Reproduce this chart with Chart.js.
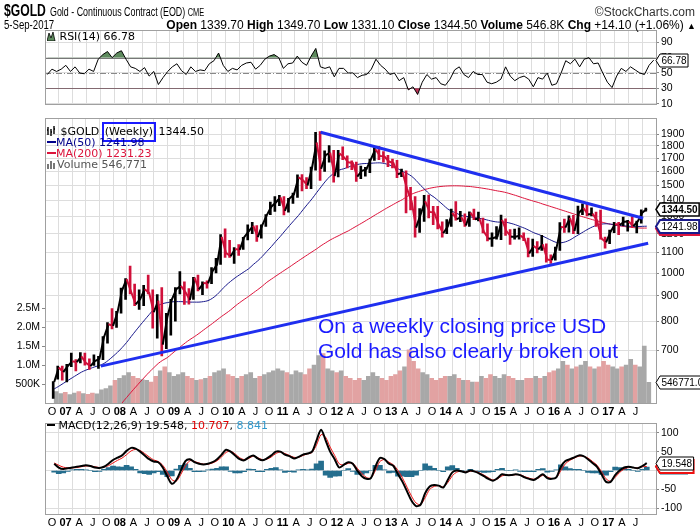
<!DOCTYPE html>
<html>
<head>
<meta charset="utf-8">
<script src="https://cdn.jsdelivr.net/npm/chart.js@4.4.1/dist/chart.umd.min.js"></script>
<style>
  body { margin: 0; width: 700px; height: 530px; position: relative; overflow: hidden; background: #fff; font-family: 'Liberation Sans', Arial, sans-serif; }
  canvas { position: absolute; left: 0; }
  .t { position: absolute; white-space: nowrap; z-index: 5; }
  .sq { transform-origin: left top; }
  .lg { font-family: 'DejaVu Sans', Verdana, sans-serif; font-size: 11px; }
</style>
</head>
<body>

<!-- header -->
<div class="t sq" style="left:4px;top:2px;font-size:16px;font-weight:bold;transform:scaleX(0.76);">$GOLD</div>
<div class="t sq" style="left:50px;top:5px;font-size:12px;transform:scaleX(0.74);">Gold - Continuous Contract (EOD) <span style="font-size:10px">CME</span></div>
<div class="t" style="right:5px;top:5px;font-size:12px;color:#333;">&copy;StockCharts.com</div>
<div class="t sq" style="left:4px;top:18px;font-size:12px;transform:scaleX(0.8);">5-Sep-2017</div>
<div class="t" style="right:4px;top:18px;font-size:12px;"><b>Open</b> 1339.70 <b>High</b> 1349.70 <b>Low</b> 1331.10 <b>Close</b> 1344.50 <b>Volume</b> 546.8K <b>Chg</b> +14.10 (+1.06%) <span style="font-size:9px">&#9650;</span></div>

<!-- panel legends -->
<div class="t lg" style="left:47px;top:30px;"><svg width="9" height="10" style="vertical-align:-1px"><path d="M0 10 L2 2 L4 7 L6 1 L8 10 Z" fill="#5d8a5d" stroke="#000" stroke-width="0.8"/></svg> RSI(14) 66.78</div>

<div class="t lg" style="left:47px;top:125px;"><svg width="10" height="10" style="vertical-align:-1px"><path d="M1 1 V9 M4 3 V10 M7 0 V8 M0 4 H1 M4 6 H5 M7 3 H8" stroke="#000" stroke-width="1.4"/></svg> $GOLD <span style="display:inline-block;border:2px solid #1a1aff;padding:0 1px;margin:-3px -1px;line-height:16px;">(Weekly)</span> 1344.50</div>
<div class="t lg" style="left:47px;top:136px;color:#00008b;"><span style="display:inline-block;width:9px;height:2px;background:#00008b;vertical-align:3px"></span>MA(50) 1241.98</div>
<div class="t lg" style="left:47px;top:147px;color:#dc143c;"><span style="display:inline-block;width:9px;height:2px;background:#dc143c;vertical-align:3px"></span>MA(200) 1231.23</div>
<div class="t lg" style="left:47px;top:158px;color:#555;"><svg width="10" height="10" style="vertical-align:-1px"><path d="M0 10 V5 H2 V10 M3 10 V2 H5 V10 M6 10 V4 H8 V10" fill="#777"/></svg>Volume 546,771</div>

<div class="t lg" style="left:47px;top:419px;"><span style="display:inline-block;width:8px;height:2px;background:#000;vertical-align:3px"></span> MACD(12,26,9) 19.548, <span style="color:#e00000">10.707</span>, <span style="color:#3399cc">8.841</span></div>

<!-- annotation -->
<div class="t" style="left:318px;top:313px;font-size:21px;line-height:25px;color:#1a1aff;">On a weekly closing price USD<br>Gold has also clearly broken out</div>

<canvas id="rsi" width="700" height="112" style="top:0"></canvas>
<canvas id="main" width="700" height="308" style="top:110px"></canvas>
<canvas id="macd" width="700" height="115" style="top:415px"></canvas>

<script>
// --- DATA (monthly, Oct 2006 .. Sep 2017) ---
const quarterLabels = ['O','07','A','J','O','08','A','J','O','09','A','J','O','10','A','J','O','11','A','J',
  'O','12','A','J','O','13','A','J','O','14','A','J','O','15','A','J','O','16','A','J','O','17','A','J'];

const priceClose = [604,646,632,
  650,665,662,680,660,650,665,672,743,789,783,834,
  923,972,917,865,886,928,912,834,880,718,815,884,
  928,942,916,883,979,927,955,953,1008,1040,1182,1096,
  1081,1118,1113,1180,1213,1245,1181,1248,1307,1359,1386,1421,
  1333,1411,1439,1556,1536,1500,1628,1829,1620,1725,1746,1566,
  1740,1711,1669,1664,1562,1604,1615,1692,1773,1719,1714,1675,
  1663,1578,1595,1476,1393,1234,1312,1395,1327,1323,1250,1202,
  1240,1321,1283,1295,1246,1322,1282,1287,1210,1172,1175,1184,
  1279,1213,1183,1183,1190,1172,1095,1133,1115,1142,1064,1061,
  1118,1238,1234,1291,1215,1321,1351,1311,1316,1275,1173,1152,
  1211,1255,1249,1268,1269,1242,1269,1322,1344.5];
const priceHigh = [605,650,650,
  655,690,670,692,690,672,685,680,745,795,848,838,
  933,975,1033,950,925,945,990,925,905,935,830,885,
  935,1007,960,930,980,990,960,965,1025,1070,1195,1227,
  1163,1125,1140,1180,1250,1265,1245,1250,1310,1388,1425,1432,
  1425,1412,1448,1575,1577,1556,1632,1917,1923,1760,1803,1765,
  1765,1792,1720,1680,1670,1640,1630,1695,1790,1798,1755,1724,
  1695,1685,1617,1605,1487,1425,1348,1433,1434,1362,1361,1267,
  1280,1345,1392,1331,1315,1327,1345,1325,1290,1255,1205,1240,
  1307,1285,1223,1225,1232,1205,1175,1170,1157,1191,1145,1088,
  1128,1263,1283,1303,1306,1363,1377,1375,1352,1326,1338,1181,
  1220,1264,1264,1296,1276,1298,1272,1340,1350];
const priceLow = [560,612,609,
  604,648,636,660,653,640,652,643,670,723,772,777,
  830,885,908,860,845,860,908,775,740,681,705,750,
  800,908,865,866,885,920,905,932,952,1000,1040,1075,
  1075,1045,1085,1115,1165,1200,1157,1175,1240,1310,1330,1365,
  1308,1325,1380,1418,1462,1478,1478,1610,1535,1600,1670,1523,
  1560,1690,1627,1613,1527,1547,1565,1590,1683,1690,1670,1636,
  1626,1555,1562,1321,1339,1180,1207,1270,1291,1251,1227,1180,
  1200,1240,1277,1268,1240,1240,1280,1273,1204,1160,1131,1170,
  1167,1190,1142,1170,1170,1162,1077,1080,1098,1110,1052,1045,
  1061,1110,1206,1208,1199,1200,1310,1302,1302,1241,1170,1122,
  1146,1205,1194,1245,1214,1237,1204,1260,1331];

const ma50 = [585,592,600,608,616,624,632,638,643,648,652,658,
  668,680,693,708,725,745,765,785,805,825,845,860,
  868,872,875,876,876,875,874,874,874,876,880,890,
  905,925,945,962,978,992,1006,1020,1040,1058,1080,1105,
  1130,1158,1185,1215,1245,1275,1305,1340,1375,1410,1450,1490,
  1530,1565,1590,1610,1620,1632,1645,1652,1658,1660,1662,1664,
  1665,1660,1650,1635,1620,1600,1585,1565,1535,1500,1470,1440,
  1420,1395,1370,1345,1330,1318,1305,1300,1296,1292,1288,1283,
  1276,1270,1266,1265,1264,1258,1250,1240,1230,1218,1205,1196,
  1186,1174,1162,1152,1150,1155,1165,1180,1195,1210,1225,1238,
  1248,1254,1256,1254,1250,1246,1244,1242,1240,1240,1241,1241.98];
const ma200 = [null,null,null,null,null,null,null,null,null,null,null,null,null,null,
  530,548,562,576,590,604,618,632,645,658,668,676,
  688,700,712,724,735,745,756,768,780,792,805,818,
  830,843,858,872,885,898,912,926,941,958,972,986,
  1000,1014,1028,1043,1058,1073,1088,1103,1118,1135,1150,1165,
  1178,1190,1203,1215,1230,1245,1260,1276,1292,1309,1325,1342,
  1358,1374,1390,1405,1425,1440,1452,1462,1472,1480,1486,1491,
  1494,1496,1497,1497,1496,1494,1492,1488,1484,1479,1474,1468,
  1462,1457,1450,1441,1432,1422,1412,1403,1394,1386,1376,1367,
  1358,1349,1340,1331,1322,1313,1304,1296,1288,1280,1273,1266,
  1259,1253,1248,1244,1240,1237,1234,1232,1231,1231.23];

// weekly volume, thousands
const volume = [300,250,280,220,260,300,250,230,260,240,350,380,
  450,600,650,720,800,700,650,620,600,550,700,850,
  950,800,700,750,800,700,650,600,620,650,700,800,
  850,900,750,700,650,700,750,800,650,700,750,800,
  850,900,850,800,750,850,800,750,900,1000,1250,1300,
  900,850,800,850,700,650,600,650,600,700,800,700,
  650,600,700,750,850,950,1400,1100,900,800,750,650,
  600,650,700,700,750,650,600,600,550,550,700,650,
  750,700,650,750,700,650,600,600,650,650,700,650,
  700,800,850,900,1100,1000,900,950,1000,1100,950,900,
  950,1100,1000,950,900,950,1000,1150,1000,950,1500,547];

const rsi = [48,55,52,55,60,52,58,50,49,55,52,68,
  74,78,70,76,79,68,58,56,52,57,46,52,
  35,44,52,58,62,53,48,58,52,54,53,62,
  66,76,60,52,56,54,60,63,64,55,60,68,
  72,74,70,56,62,63,72,64,60,72,82,58,
  56,58,45,56,56,50,50,44,47,48,55,68,
  60,55,48,50,40,44,28,32,22,38,48,42,
  44,36,34,42,54,58,48,44,52,48,48,38,
  36,38,42,58,46,40,44,46,42,32,44,42,
  50,34,36,50,66,62,68,58,68,70,62,63,
  50,38,31,46,56,52,58,54,50,48,60,66.78];

const macd = [18,8,4,6,8,10,12,14,12,8,7,10,
  18,28,34,40,52,60,58,50,40,30,24,22,
  8,-15,-35,-25,0,25,30,22,18,16,18,22,
  30,42,55,50,40,30,27,35,40,32,27,32,
  40,50,50,42,38,32,36,42,45,50,80,108,
  80,50,30,8,15,22,18,0,-15,-22,-20,10,
  33,30,18,12,-10,-30,-55,-80,-94,-90,-60,-42,
  -38,-40,-45,-25,-5,0,-2,-5,0,-3,-8,-15,
  -22,-27,-20,-10,-12,-12,-10,-12,-18,-22,-25,-18,
  -10,-20,-22,-18,10,25,30,35,40,38,30,20,
  10,-10,-30,-30,-12,0,8,10,8,6,12,19.548];
const macdSignal = [20,14,9,7,7,8,10,12,12,10,8,9,
  13,20,27,33,42,52,56,53,45,36,28,24,
  14,-4,-24,-28,-10,12,26,24,20,17,17,20,
  26,36,48,51,44,34,29,32,38,34,29,30,
  36,45,49,45,40,35,35,40,44,48,68,95,
  88,62,40,18,15,19,19,6,-8,-18,-20,0,
  24,29,22,15,0,-20,-44,-68,-86,-90,-72,-50,
  -42,-40,-43,-32,-14,-4,-2,-4,-2,-2,-6,-12,
  -19,-25,-22,-14,-12,-12,-11,-11,-16,-20,-23,-20,
  -13,-17,-21,-19,0,18,27,33,38,38,33,24,
  14,-3,-22,-28,-18,-5,4,8,8,7,10,10.707];
const macdHist = [-4,-8,-6,-2,2,3,3,2,0,-3,-2,3,
  8,12,10,9,14,10,3,-6,-8,-10,-6,-3,
  -10,-16,-14,4,14,18,6,-3,-3,-2,2,4,
  6,10,10,-2,-6,-6,-3,4,3,-3,-3,3,
  6,8,2,-5,-3,-4,2,3,2,4,18,25,
  -12,-18,-15,-14,0,5,-2,-10,-10,-6,0,14,
  14,2,-6,-5,-15,-15,-16,-16,-12,0,18,12,
  6,0,-3,10,13,6,0,-2,3,-2,-3,-5,
  -4,-3,3,6,0,0,2,-2,-3,-3,-3,3,
  5,-4,-2,2,15,10,5,3,3,0,-5,-6,
  -6,-10,-12,-3,9,8,6,3,0,-2,3,8.841];

// trend lines: [month index, price]
const upperTrend = [[59.4, 1918], [130.7, 1288]];
const lowerTrend = [[10.8, 650], [131.8, 1148]];

const priceTicks = [700, 800, 900, 1000, 1100, 1200, 1300, 1400, 1500, 1600, 1700, 1800, 1900];
const volTicks = [500, 1000, 1500, 2000, 2500];
const rsiTicks = [10, 30, 50, 70, 90];
const macdTicks = [-100, -50, 0, 50, 100];

// --- HELPERS ---
const FONT = "'Liberation Sans', Arial, sans-serif";
const GRID = '#dddddd';
const UP = '#000', DOWN = '#d0103a';
const pts = (arr) => arr.map((v, i) => ({ x: i + 0.5, y: v }));
const isUp = (i) => i === 0 || priceClose[i] >= priceClose[i - 1];

function xAxis(showLabels, height) {
  return {
    type: 'linear', min: 0, max: 132,
    afterBuildTicks: (s) => { s.ticks = quarterLabels.map((_, k) => ({ value: k * 3 })); },
    afterFit: (s) => { s.height = height; },
    grid: { color: GRID, drawTicks: false },
    border: { display: false },
    ticks: {
      display: showLabels, autoSkip: false, maxRotation: 0, padding: 2, color: '#000',
      callback: (v, i) => quarterLabels[i],
      font: (c) => ({ family: FONT, size: 11, weight: /\d/.test(quarterLabels[c.index] || '') ? 'bold' : 'normal' }),
    },
  };
}

function rightAxis(extra) {
  return Object.assign({
    position: 'right',
    afterFit: (s) => { s.width = 44; },
    grid: { color: GRID, tickLength: 3, tickColor: '#888' },
    border: { display: false },
    ticks: { color: '#000', padding: 2, font: { family: FONT, size: 10.5 } },
  }, extra);
}

// frame around each plot area
const framePlugin = {
  id: 'frame',
  afterDatasetsDraw(chart) {
    const a = chart.chartArea, ctx = chart.ctx;
    ctx.save();
    ctx.strokeStyle = '#a0a0a0';
    ctx.lineWidth = 1;
    ctx.strokeRect(Math.round(a.left) + 0.5, Math.round(a.top) + 0.5, Math.round(a.width), Math.round(a.height));
    ctx.restore();
  },
};

// reference lines (RSI 70/50/30)
const refLinePlugin = {
  id: 'reflines',
  beforeDatasetsDraw(chart, args, opts) {
    const items = opts.items || [];
    const ctx = chart.ctx, a = chart.chartArea;
    ctx.save();
    items.forEach((r) => {
      const y = Math.round(chart.scales[r.axis].getPixelForValue(r.value)) + 0.5;
      ctx.strokeStyle = r.color;
      ctx.lineWidth = 1;
      ctx.setLineDash(r.dash || []);
      ctx.beginPath(); ctx.moveTo(a.left, y); ctx.lineTo(a.right, y); ctx.stroke();
    });
    ctx.restore();
  },
};

// value tags on the right axis
const tagPlugin = {
  id: 'tags',
  afterDraw(chart, args, opts) {
    const ctx = chart.ctx;
    const x = chart.chartArea.right;
    (opts.items || []).forEach((t) => {
      const y = Math.round(chart.scales[t.axis].getPixelForValue(t.value)) + 0.5;
      ctx.save();
      ctx.font = (t.bold ? 'bold ' : '') + '10px ' + FONT;
      const w = ctx.measureText(t.text).width + 3, h = 13;
      ctx.beginPath();
      ctx.moveTo(x, y);
      ctx.lineTo(x + 4, y - h / 2);
      ctx.lineTo(x + 4 + w, y - h / 2);
      ctx.lineTo(x + 4 + w, y + h / 2);
      ctx.lineTo(x + 4, y + h / 2);
      ctx.closePath();
      ctx.fillStyle = '#fff';
      ctx.fill();
      ctx.strokeStyle = t.border;
      ctx.lineWidth = t.lw || 1;
      ctx.stroke();
      ctx.fillStyle = '#000';
      ctx.textBaseline = 'middle';
      ctx.fillText(t.text, x + 5.5, y + 1);
      ctx.restore();
    });
  },
};

Chart.register(framePlugin, refLinePlugin, tagPlugin);
Chart.defaults.font.family = FONT;

const baseOptions = {
  responsive: false,
  animation: false,
  devicePixelRatio: 1,
  events: [],
};

// --- RSI PANEL ---
new Chart(document.getElementById('rsi'), {
  type: 'line',
  data: {
    datasets: [
      {
        data: pts(rsi), borderColor: '#000', borderWidth: 1, pointRadius: 0, tension: 0,
        fill: { target: { value: 70 }, above: '#5d8a5d', below: 'rgba(0,0,0,0)' },
      },
      {
        data: pts(rsi), borderWidth: 0, pointRadius: 0, tension: 0,
        fill: { target: { value: 30 }, above: 'rgba(0,0,0,0)', below: '#b83255' },
      },
    ],
  },
  options: Object.assign({}, baseOptions, {
    layout: { padding: { left: 45, top: 30, right: 0, bottom: 2 } },
    plugins: {
      legend: { display: false }, tooltip: { enabled: false },
      reflines: { items: [
        { axis: 'y', value: 70, color: '#777' },
        { axis: 'y', value: 30, color: '#777' },
        { axis: 'y', value: 50, color: '#888', dash: [6, 2, 1, 2] },
      ] },
      tags: { items: [{ axis: 'y', value: 66.78, text: '66.78', border: '#000' }] },
    },
    scales: {
      x: xAxis(false, 0),
      y: rightAxis({
        min: 10, max: 106,
        afterBuildTicks: (s) => { s.ticks = rsiTicks.map((v) => ({ value: v })); },
      }),
    },
  }),
});

// --- PRICE PANEL ---
new Chart(document.getElementById('main'), {
  data: {
    datasets: [
      {
        type: 'bar', yAxisID: 'yVol', order: 10,
        data: pts(volume),
        backgroundColor: volume.map((_, i) => (isUp(i) ? '#a8a8a8' : '#e2a2a2')),
        barThickness: 4,
      },
      {
        type: 'line', order: 6, data: pts(ma200),
        borderColor: '#dc143c', borderWidth: 1, pointRadius: 0, tension: 0.3,
      },
      {
        type: 'line', order: 5, data: pts(ma50),
        borderColor: '#1a1a8c', borderWidth: 1, pointRadius: 0, tension: 0.3,
      },
      {
        type: 'bar', order: 4,
        data: priceLow.map((lo, i) => ({ x: i + 0.5, y: [lo, priceHigh[i]] })),
        backgroundColor: priceClose.map((_, i) => (isUp(i) ? UP : DOWN)),
        barThickness: 2,
      },
      {
        type: 'line', order: 3, data: pts(priceClose),
        borderColor: UP, borderWidth: 2, pointRadius: 0, tension: 0,
        segment: { borderColor: (c) => (isUp(c.p1DataIndex) ? UP : DOWN) },
      },
      {
        type: 'line', order: 1, data: upperTrend.map(([x, y]) => ({ x, y })),
        borderColor: '#1f2fef', borderWidth: 3, pointRadius: 0,
      },
      {
        type: 'line', order: 1, data: lowerTrend.map(([x, y]) => ({ x, y })),
        borderColor: '#1f2fef', borderWidth: 3, pointRadius: 0,
      },
    ],
  },
  options: Object.assign({}, baseOptions, {
    layout: { padding: { left: 0, top: 8, right: 0, bottom: 0 } },
    plugins: {
      legend: { display: false }, tooltip: { enabled: false },
      tags: { items: [
        { axis: 'yVol', value: 546.771, text: '546771.0', border: '#000' },
        { axis: 'y', value: 1231.23, text: '1231.23', border: '#dc143c', lw: 2 },
        { axis: 'y', value: 1241.98, text: '1241.98', border: '#1a1a8c', lw: 2 },
        { axis: 'y', value: 1344.5, text: '1344.50', border: '#000', bold: true, lw: 1.5 },
      ] },
    },
    scales: {
      x: xAxis(true, 15),
      y: rightAxis({
        type: 'logarithmic', min: 548, max: 2046,
        afterBuildTicks: (s) => { s.ticks = priceTicks.map((v) => ({ value: v })); },
        ticks: { color: '#000', padding: 2, font: { family: FONT, size: 10.5 }, callback: (v) => String(v) },
      }),
      yVol: {
        position: 'left', min: 0, max: 7500,
        afterFit: (s) => { s.width = 45; },
        afterBuildTicks: (s) => { s.ticks = volTicks.map((v) => ({ value: v })); },
        grid: { drawOnChartArea: false, tickLength: 3, tickColor: '#888' },
        border: { display: false },
        ticks: {
          color: '#000', padding: 2, font: { family: FONT, size: 10.5 },
          callback: (v) => (v < 1000 ? v + 'K' : (v / 1000).toFixed(1) + 'M'),
        },
      },
    },
  }),
});

// --- MACD PANEL ---
new Chart(document.getElementById('macd'), {
  data: {
    datasets: [
      {
        type: 'bar', order: 3, data: pts(macdHist),
        backgroundColor: '#256e8e', barThickness: 5,
      },
      {
        type: 'line', order: 2, data: pts(macdSignal),
        borderColor: '#ee1111', borderWidth: 1, pointRadius: 0, tension: 0.3,
      },
      {
        type: 'line', order: 1, data: pts(macd),
        borderColor: '#000', borderWidth: 2, pointRadius: 0, tension: 0.3,
      },
    ],
  },
  options: Object.assign({}, baseOptions, {
    layout: { padding: { left: 45, top: 3, right: 0, bottom: 0 } },
    plugins: {
      legend: { display: false }, tooltip: { enabled: false },
      tags: { items: [
        { axis: 'y', value: 8.841, text: '8.841', border: '#256e8e' },
        { axis: 'y', value: 10.707, text: '10.707', border: '#ee1111', lw: 2 },
        { axis: 'y', value: 19.548, text: '19.548', border: '#000' },
      ] },
    },
    scales: {
      x: xAxis(true, 16),
      y: rightAxis({
        min: -115, max: 125,
        afterBuildTicks: (s) => { s.ticks = macdTicks.map((v) => ({ value: v })); },
      }),
    },
  }),
});
</script>
</body>
</html>
